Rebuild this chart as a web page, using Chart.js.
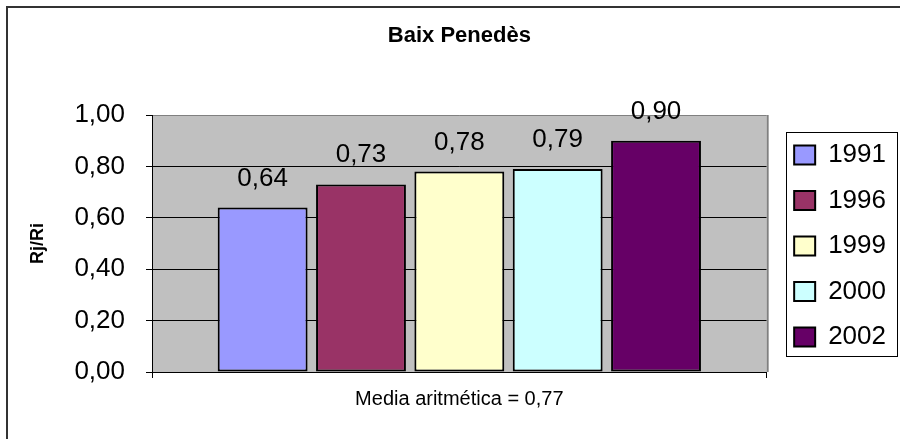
<!DOCTYPE html>
<html><head><meta charset="utf-8">
<script src="https://cdn.jsdelivr.net/npm/chart.js@4/dist/chart.umd.min.js"></script>
<style>html,body{margin:0;padding:0;background:#fff}#wrap{width:900px;height:439px}</style>
</head><body><div id="wrap"><canvas id="c" width="900" height="439"></canvas></div>
<script>
const categories = [''];
const seriesNames = ['1991', '1996', '1999', '2000', '2002'];
const seriesValues = [0.64, 0.73, 0.78, 0.79, 0.90];
const seriesColors = ['#9999FF', '#993366', '#FFFFCC', '#CCFFFF', '#660066'];
const yTicks = [0, 0.2, 0.4, 0.6, 0.8, 1.0];
const chartTitle = 'Baix Penedès';
const yTitle = 'Rj/Ri';
const xTitle = 'Media aritmética = 0,77';

const FONT = "'Liberation Sans', Arial, sans-serif";
const fmt = v => Number(v).toFixed(2).replace('.', ',');

const datasets = seriesNames.map((name, i) => ({
  label: name,
  data: [seriesValues[i]],
  backgroundColor: seriesColors[i],
  borderColor: '#000',
  borderWidth: 2,
  borderSkipped: false,
  categoryPercentage: 0.8,
  barPercentage: 0.914
}));

const decorPlugin = {
  id: 'decor',
  afterLayout(chart) {
    const lg = chart.legend;
    if (lg) { lg.left += 8; lg.right += 8; lg.top += 2.5; lg.bottom += 2.5; }
  },
  beforeDraw(chart) {
    const {ctx, chartArea: a} = chart;
    ctx.save();
    ctx.fillStyle = '#fff';
    ctx.fillRect(0, 0, chart.width, chart.height);
    ctx.fillStyle = '#C0C0C0';
    ctx.fillRect(a.left, a.top, a.right - a.left, a.bottom - a.top);
    ctx.restore();
  },
  afterDatasetsDraw(chart) {
    const {ctx} = chart;
    ctx.save();
    ctx.font = '26px ' + FONT;
    ctx.fillStyle = '#000';
    ctx.textAlign = 'center';
    ctx.textBaseline = 'alphabetic';
    chart.data.datasets.forEach((ds, i) => {
      const meta = chart.getDatasetMeta(i);
      meta.data.forEach((bar, j) => {
        ctx.fillText(fmt(ds.data[j]), bar.x, bar.y - 22);
      });
    });
    ctx.restore();
  },
  afterDraw(chart) {
    const {ctx, chartArea: a} = chart;
    ctx.save();
    ctx.strokeStyle = '#808080';
    ctx.lineWidth = 2;
    ctx.beginPath();
    ctx.moveTo(a.right + 1, a.top);
    ctx.lineTo(a.right + 1, a.bottom);
    ctx.stroke();
    ctx.strokeStyle = '#333';
    ctx.lineWidth = 2;
    ctx.beginPath();
    ctx.moveTo(7, chart.height);
    ctx.lineTo(7, 7);
    ctx.lineTo(chart.width, 7);
    ctx.stroke();
    const hb = chart.legend && chart.legend.legendHitBoxes;
    if (hb && hb.length) {
      const l = Math.min(...hb.map(h => h.left));
      const t = Math.min(...hb.map(h => h.top));
      const r = Math.max(...hb.map(h => h.left + h.width));
      const b = Math.max(...hb.map(h => h.top + h.height));
      ctx.strokeStyle = '#000';
      ctx.lineWidth = 1;
      ctx.strokeRect(Math.round(l - 8) + 0.5, Math.round(t - 10) + 0.5,
                     Math.round(r - l + 19), Math.round(b - t + 16));
    }
    ctx.restore();
  }
};

new Chart(document.getElementById('c'), {
  type: 'bar',
  data: { labels: categories, datasets },
  plugins: [decorPlugin],
  options: {
    responsive: false,
    animation: false,
    devicePixelRatio: 1,
    layout: { padding: { left: 0, right: 12, top: 0, bottom: 0 } },
    plugins: {
      title: {
        display: true,
        text: chartTitle,
        fullSize: false,
        color: '#000',
        font: { family: FONT, size: 22, weight: 'bold' },
        padding: { top: 23, bottom: 65.6 }
      },
      legend: {
        display: true,
        position: 'right',
        fullSize: false,
        align: 'center',
        labels: {
          boxWidth: 21,
          boxHeight: 19,
          padding: 19.5,
          color: '#000',
          font: { family: FONT, size: 26 }
        }
      },
      tooltip: { enabled: false }
    },
    scales: {
      x: {
        grid: {
          display: true,
          drawOnChartArea: false,
          drawTicks: true,
          tickLength: 6,
          color: '#000',
          offset: true
        },
        border: { display: true, color: '#000', width: 1 },
        ticks: { display: false },
        title: {
          display: true,
          text: xTitle,
          color: '#000',
          font: { family: FONT, size: 20 },
          padding: { top: 0, bottom: 28 }
        },
        afterFit(s) { s.height = 67; }
      },
      y: {
        min: 0,
        max: 1,
        afterBuildTicks(s) { s.ticks = yTicks.map(v => ({ value: v })); },
        grid: {
          color: c => (c.tick && c.tick.value === 1) ? '#808080' : '#000',
          lineWidth: 1,
          drawTicks: true,
          tickLength: 6,
          tickColor: '#000'
        },
        border: { display: true, color: '#000', width: 1 },
        ticks: {
          color: '#000',
          padding: 21,
          font: { family: FONT, size: 26 },
          callback: v => fmt(v)
        },
        title: {
          display: true,
          text: yTitle,
          color: '#000',
          font: { family: FONT, size: 18, weight: 'bold' },
          padding: { top: 27, bottom: 0 }
        },
        afterFit(s) { s.width = 152; }
      }
    }
  }
});
</script>
</body></html>
